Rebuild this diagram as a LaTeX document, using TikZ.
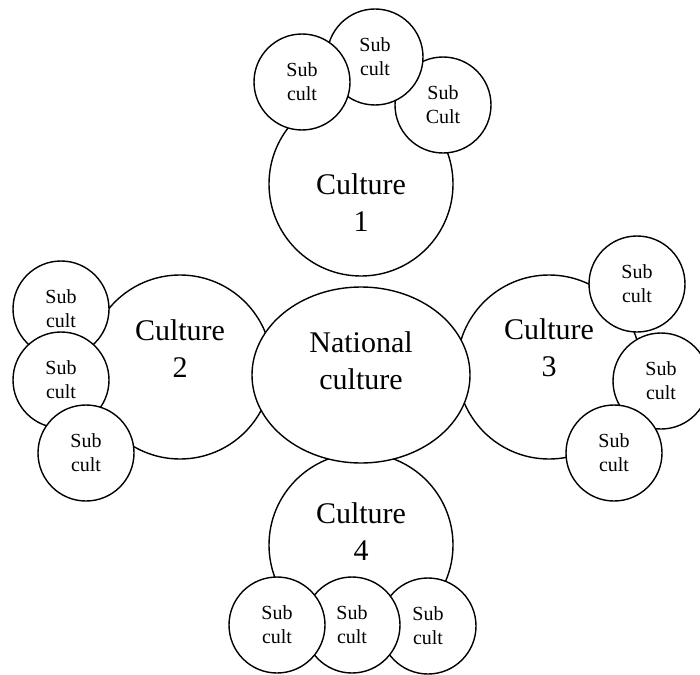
\documentclass[tikz,border=0pt]{standalone}
\usepackage{fontspec}
\setmainfont{Liberation Serif}
\usetikzlibrary{shapes.geometric}

\begin{document}
\begin{tikzpicture}[
		x=1pt, y=-1pt,
		every node/.style={circle, draw, fill=white, line width=1.4pt, inner sep=0pt},
		every label/.append style={draw=none, fill=none, align=center, font=\fontsize{30}{37}\selectfont},
		culture/.style={minimum size=184pt},
		subc/.style={minimum size=96pt, align=center, font=\fontsize{20}{24}\selectfont}
	]
  \useasboundingbox (0, 0) rectangle (700, 674);
  \node (cult_1) [culture, label={[yshift=-19pt]center:Culture\\1}] at (361, 184) {};
  \node (sub_1c) [subc] at (443, 105) {Sub\\Cult};
  \node (sub_1b) [subc] at (375, 57) {Sub\\cult};
  \node (sub_1a) [subc] at (302, 82) {Sub\\cult};
  \node (cult_2) [culture, label={[yshift=18pt]center:Culture\\2}] at (180, 367) {};
  \node (sub_2a) [subc] at (61, 309) {Sub\\cult};
  \node (sub_2b) [subc] at (61, 380) {Sub\\cult};
  \node (sub_2c) [subc] at (86, 453) {Sub\\cult};
  \node (cult_3) [culture, label={[yshift=19pt]center:Culture\\3}] at (549, 367) {};
  \node (sub_3a) [subc] at (637, 284) {Sub\\cult};
  \node (sub_3b) [subc] at (661, 381) {Sub\\cult};
  \node (sub_3c) [subc] at (614, 453) {Sub\\cult};
  \node (cult_4) [culture, label={[yshift=13pt]center:Culture\\4}] at (361, 545) {};
  \node (sub_4c) [subc] at (428, 626) {Sub\\cult};
  \node (sub_4b) [subc] at (352, 625) {Sub\\cult};
  \node (sub_4a) [subc] at (277, 625) {Sub\\cult};
  \node (nat) [ellipse, minimum width=218pt, minimum height=176pt, label={[yshift=14pt]center:National\\culture}] at (361, 375) {};
\end{tikzpicture}
\end{document}
